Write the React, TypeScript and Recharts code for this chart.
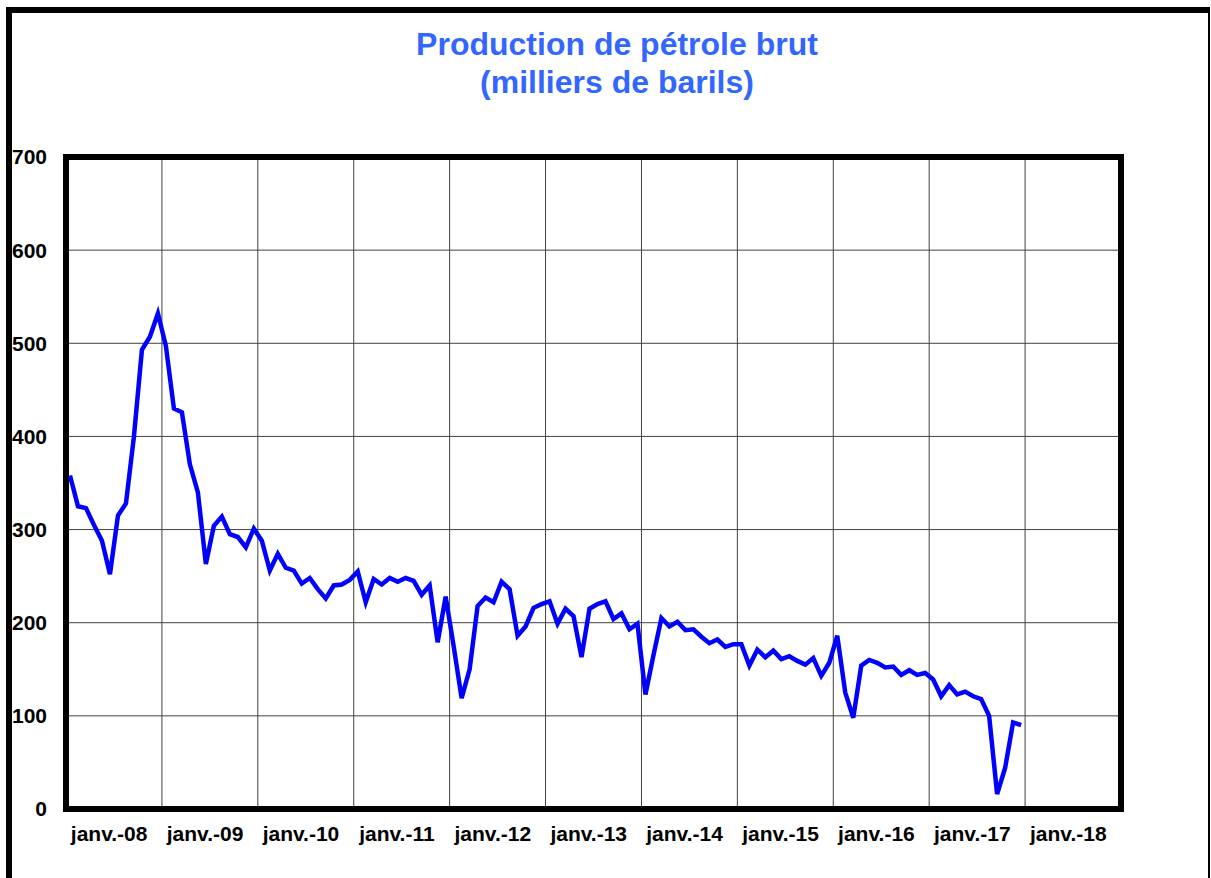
import React from 'react';
import { LineChart, Line, XAxis, YAxis, CartesianGrid, ReferenceArea } from 'recharts';

// monthly production, janv. 2008 -> déc. 2017 (milliers de barils)
const production = [
  358, 325, 323, 305, 288, 252, 315, 328, 400, 493, 507, 532,
  497, 430, 426, 370, 340, 263, 304, 314, 295, 292, 281, 301,
  288, 256, 274, 259, 256, 242, 248, 236, 226, 240, 241, 246,
  255, 222, 247, 241, 248, 244, 248, 245, 230, 240, 179, 228,
  175, 119, 150, 218, 227, 222, 244, 236, 186, 196, 216, 220,
  223, 199, 215, 207, 163, 215, 220, 223, 204, 210, 193, 199,
  123, 165, 205, 196, 201, 192, 193, 185, 178, 182, 174, 177,
  177, 154, 171, 163, 170, 161, 164, 159, 155, 162, 143, 157,
  186, 125, 98, 154, 160, 157, 152, 153, 144, 149, 144, 146,
  139, 121, 133, 123, 126, 121, 118, 100, 16, 44, 93, 90,
];

const yearLabels = [
  'janv.-08', 'janv.-09', 'janv.-10', 'janv.-11', 'janv.-12', 'janv.-13',
  'janv.-14', 'janv.-15', 'janv.-16', 'janv.-17', 'janv.-18',
];

const yTicks = [0, 100, 200, 300, 400, 500, 600, 700];

const data = production.map((v, i) => ({ m: i + 0.5, v }));
const gridTicks = Array.from({ length: 12 }, (_, i) => i * 12);
const labelTicks = yearLabels.map((_, i) => i * 12 + 5.4);

const font = '"Liberation Sans", Arial, sans-serif';

export default function App() {
  return (
    <div style={{ position: 'absolute', left: 0, top: 0, width: 1211, height: 878, background: '#fff', fontFamily: font }}>
      <div
        style={{
          position: 'absolute', left: 6, top: 7, width: 1196, height: 900,
          borderLeft: '6px solid #000', borderTop: '6px solid #000', borderRight: '2px solid #000',
        }}
      />
      <div
        style={{
          position: 'absolute', left: 0, top: 25, width: 1234, textAlign: 'center',
          color: '#3366FF', fontWeight: 'bold', fontSize: 32, lineHeight: '38px',
        }}
      >
        Production de pétrole brut
        <br />
        (milliers de barils)
      </div>
      <div style={{ position: 'absolute', left: 0, top: 0 }}>
        <LineChart width={1211} height={878} data={data} margin={{ top: 157, right: 90, left: 0, bottom: 0 }}>
          <CartesianGrid xAxisId="main" stroke="#404040" strokeWidth={1} />
          <XAxis
            xAxisId="main"
            dataKey="m"
            type="number"
            domain={[0, 132]}
            ticks={gridTicks}
            interval={0}
            tick={() => <g />}
            axisLine={false}
            tickLine={false}
            height={0}
          />
          <XAxis
            xAxisId="lab"
            dataKey="m"
            type="number"
            domain={[0, 132]}
            ticks={labelTicks}
            tickFormatter={(_, i) => yearLabels[i]}
            interval={0}
            axisLine={false}
            tickLine={false}
            tickSize={0}
            tickMargin={17}
            height={69}
            tick={{ fill: '#000', fontSize: 21, fontWeight: 'bold', fontFamily: font }}
          />
          <YAxis
            domain={[0, 700]}
            ticks={yTicks}
            width={66}
            axisLine={false}
            tickLine={false}
            tickSize={0}
            tickMargin={19}
            tick={{ fill: '#000', fontSize: 21, fontWeight: 'bold', fontFamily: font }}
          />
          <Line
            xAxisId="main"
            type="linear"
            dataKey="v"
            stroke="#0000FF"
            strokeWidth={4.5}
            dot={false}
            isAnimationActive={false}
          />
          <ReferenceArea
            xAxisId="main"
            x1={0}
            x2={132}
            y1={0}
            y2={700}
            fill="none"
            fillOpacity={0}
            stroke="#000"
            strokeWidth={6}
            ifOverflow="visible"
          />
        </LineChart>
      </div>
    </div>
  );
}
